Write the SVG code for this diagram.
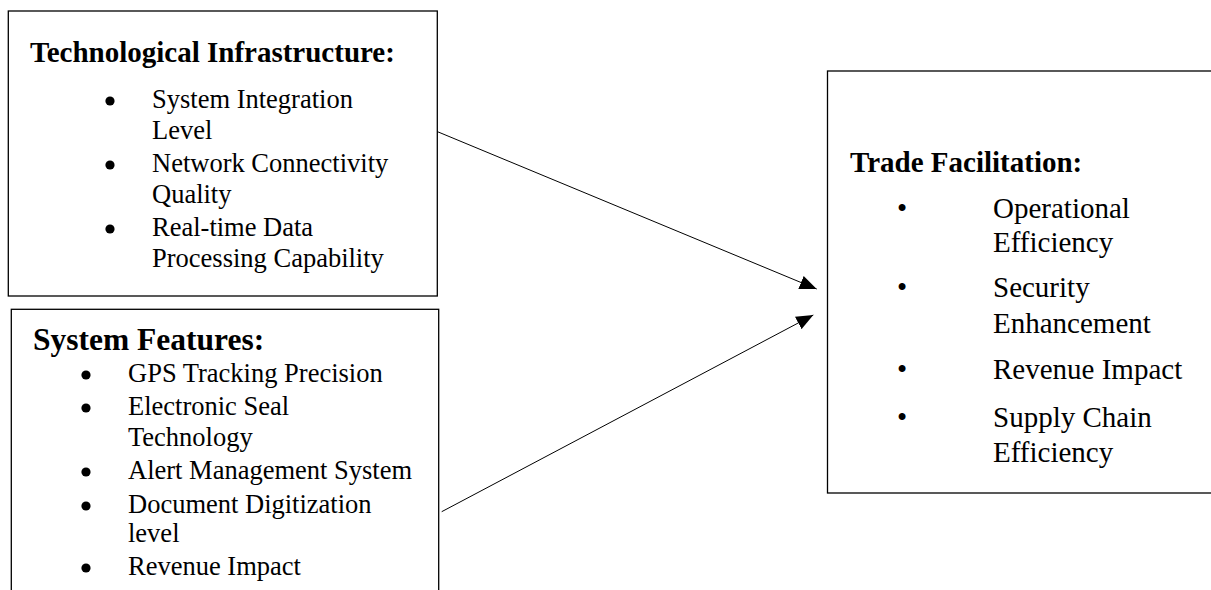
<svg xmlns="http://www.w3.org/2000/svg" width="1211" height="590" viewBox="0 0 1211 590">
  <style>
    .box { fill: #ffffff; stroke: #000000; stroke-width: 1.3; }
    .t { font-family: "Liberation Serif", "Times New Roman", serif; fill: #000000; }
    .title { font-weight: bold; font-size: 29px; }
    .title2 { font-weight: bold; font-size: 31.5px; }
    .item { font-size: 26.5px; }
    .item3 { font-size: 29px; }
    .dot { fill: #000000; }
    .bul3 { font-size: 29px; text-anchor: middle; }
    .conn { stroke: #000000; stroke-width: 1; fill: none; }
  </style>
  <defs>
    <marker id="arrow" markerUnits="userSpaceOnUse" markerWidth="17" markerHeight="14" viewBox="0 0 17 14" refX="17" refY="7" orient="auto">
      <path d="M0,0 L17,7 L0,14 z" fill="#000000"/>
    </marker>
  </defs>
  <rect x="0" y="0" width="1211" height="590" fill="#ffffff"/>

  <g id="node-tech">
    <rect class="box" x="8.3" y="11" width="429" height="285"/>
    <text class="t title" x="30" y="62">Technological Infrastructure:</text>
    <circle class="dot" cx="110" cy="101" r="4.6"/>
    <text class="t item" x="152" y="108">System Integration</text>
    <text class="t item" x="152" y="139">Level</text>
    <circle class="dot" cx="110" cy="165" r="4.6"/>
    <text class="t item" x="152" y="172">Network Connectivity</text>
    <text class="t item" x="152" y="203">Quality</text>
    <circle class="dot" cx="110" cy="229" r="4.6"/>
    <text class="t item" x="152" y="236">Real-time Data</text>
    <text class="t item" x="152" y="267">Processing Capability</text>
  </g>

  <g id="node-features">
    <rect class="box" x="11.3" y="309.3" width="427.4" height="300"/>
    <text class="t title2" x="33" y="350">System Features:</text>
    <circle class="dot" cx="86" cy="375" r="4.6"/>
    <text class="t item" x="128" y="382">GPS Tracking Precision</text>
    <circle class="dot" cx="86" cy="408" r="4.6"/>
    <text class="t item" x="128" y="415">Electronic Seal</text>
    <text class="t item" x="128" y="446">Technology</text>
    <circle class="dot" cx="86" cy="472" r="4.6"/>
    <text class="t item" x="128" y="479">Alert Management System</text>
    <circle class="dot" cx="86" cy="506" r="4.6"/>
    <text class="t item" x="128" y="513">Document Digitization</text>
    <text class="t item" x="128" y="542">level</text>
    <circle class="dot" cx="86" cy="568" r="4.6"/>
    <text class="t item" x="128" y="575">Revenue Impact</text>
  </g>

  <g id="node-trade">
    <rect class="box" x="827.5" y="71" width="400" height="422"/>
    <text class="t title" x="850" y="172">Trade Facilitation:</text>
    <text class="t bul3" x="902" y="218">•</text>
    <text class="t item3" x="993" y="218">Operational</text>
    <text class="t item3" x="993" y="252">Efficiency</text>
    <text class="t bul3" x="902" y="297">•</text>
    <text class="t item3" x="993" y="297">Security</text>
    <text class="t item3" x="993" y="333">Enhancement</text>
    <text class="t bul3" x="902" y="379">•</text>
    <text class="t item3" x="993" y="379">Revenue Impact</text>
    <text class="t bul3" x="902" y="427">•</text>
    <text class="t item3" x="993" y="427">Supply Chain</text>
    <text class="t item3" x="993" y="462">Efficiency</text>
  </g>

  <g id="connectors">
    <line class="conn" x1="437.5" y1="131.7" x2="816.7" y2="289" marker-end="url(#arrow)"/>
    <line class="conn" x1="441.7" y1="511.7" x2="813.3" y2="315" marker-end="url(#arrow)"/>
  </g>
</svg>
